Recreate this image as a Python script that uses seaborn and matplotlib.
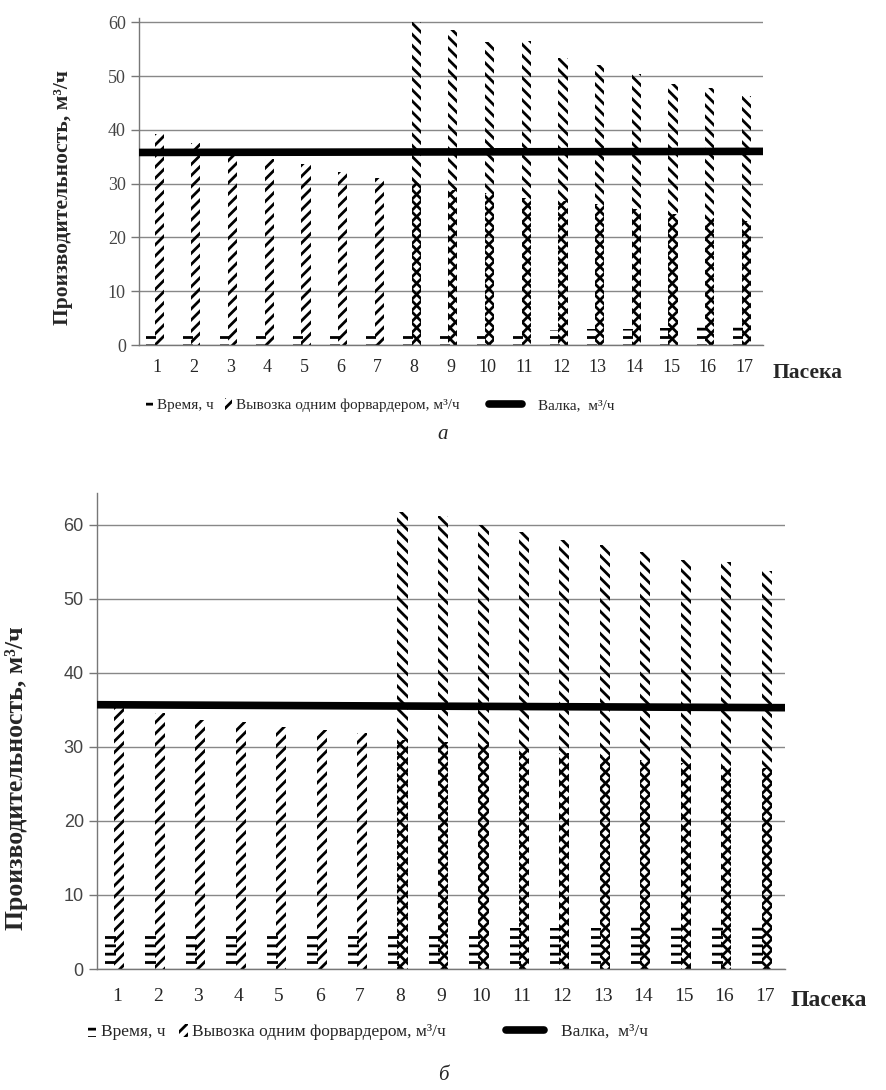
import numpy as np
import matplotlib.pyplot as plt
from matplotlib.patches import Patch
from matplotlib.lines import Line2D
import seaborn as sns

paseka = [str(i) for i in range(1, 18)]

# panel "а"
time_a = [1.8, 2.0, 2.0, 2.0, 2.0, 2.0, 2.0, 2.0, 2.0, 2.0, 2.2, 2.8, 3.0, 3.0, 3.2, 3.3, 3.3]
one_fw_a = [39.2, 37.5, 35.4, 34.5, 33.6, 32.1, 31.1, 30.2, 28.9, 28.3, 27.4, 26.7, 26.3, 25.2, 24.3, 23.7, 23.0]
two_fw_a = [60.0, 58.5, 56.3, 56.5, 53.3, 52.0, 50.3, 48.5, 47.7, 46.3]  # пасеки 8-17
valka_a = [35.8, 35.8, 35.8, 35.8, 35.8, 35.9, 35.9, 35.9, 35.9, 35.9, 35.9, 35.9, 36.0, 36.0, 36.0, 36.0, 36.0]

# panel "б"
time_b = [4.7, 4.7, 5.0, 5.0, 5.0, 5.0, 5.0, 5.0, 5.0, 5.0, 5.6, 5.6, 5.6, 5.9, 5.9, 5.9, 5.9]
one_fw_b = [35.4, 34.6, 33.6, 33.3, 32.7, 32.3, 31.9, 30.9, 30.7, 30.3, 29.7, 29.2, 28.9, 28.2, 27.8, 27.4, 27.1]
two_fw_b = [61.8, 61.2, 60.0, 59.0, 58.0, 57.3, 56.3, 55.3, 55.0, 53.7]  # пасеки 8-17
valka_b = [35.7, 35.7, 35.7, 35.6, 35.6, 35.6, 35.6, 35.5, 35.5, 35.5, 35.5, 35.4, 35.4, 35.4, 35.4, 35.3, 35.3]

sns.set_theme(style="white")
plt.rcParams['font.family'] = ['Liberation Serif', 'DejaVu Serif']
plt.rcParams['hatch.linewidth'] = 2.0
plt.rcParams['hatch.color'] = 'black'

fig = plt.figure(figsize=(8.86, 10.9), dpi=100)
W, H = 886, 1090


def draw_panel(ax, time, one_fw, two_fw, valka, ymax, ytick_font, ytick_size, xtick_size, xpad):
    pos = np.arange(len(paseka))
    sns.barplot(x=pos - 0.17, y=time, native_scale=True, width=0.27, ax=ax,
                color='black', hatch='--', linewidth=0)
    sns.barplot(x=pos + 0.05, y=one_fw, native_scale=True, width=0.25, ax=ax,
                color='black', hatch='///', linewidth=0)
    sns.barplot(x=pos[7:] + 0.05, y=two_fw, native_scale=True, width=0.25, ax=ax,
                color='black', hatch='\\\\\\', linewidth=0)
    for p in ax.patches:
        p.set_facecolor('none')
        p.set_edgecolor('black')
        p.set_linewidth(0)

    # Валка - thick line across the plot
    sns.lineplot(x=[-0.5, 16.5], y=[valka[0], valka[-1]], ax=ax, color='black',
                 linewidth=5.5, zorder=5)

    ax.set_xlim(-0.5, 16.5)
    ax.set_ylim(0, ymax)
    ax.set_xticks(pos)
    ax.set_xticklabels(paseka, fontsize=xtick_size, family=['Liberation Serif'])
    ax.set_xticks(np.arange(-0.5, 17, 1), minor=True)
    ax.tick_params(axis='x', which='major', length=0, pad=xpad)
    ax.tick_params(axis='x', which='minor', length=5, width=1, color='#777777', direction='out')
    ax.set_yticks(range(0, 61, 10))
    ax.set_yticklabels([str(v) for v in range(0, 61, 10)], fontsize=ytick_size,
                       family=ytick_font, color='#444444')
    ax.tick_params(axis='y', length=6, width=1, color='#777777', direction='out', left=True)
    ax.yaxis.grid(True, color='#888888', linewidth=1)
    ax.set_axisbelow(True)
    ax.set_xlabel('')
    for s in ['top', 'right']:
        ax.spines[s].set_visible(False)
    for s in ['left', 'bottom']:
        ax.spines[s].set_color('#777777')
        ax.spines[s].set_linewidth(1)


ax1 = fig.add_axes([139 / W, 1 - 345 / H, (763 - 139) / W, (345 - 18) / H])
draw_panel(ax1, time_a, one_fw_a, two_fw_a, valka_a, 60.8,
           ['Liberation Serif'], 13, 13, 10)
ax1.set_ylabel('Производительность, м³/ч', fontsize=15.5, fontweight='bold')
ax1.yaxis.set_label_coords(-0.105, 0.45)

ax2 = fig.add_axes([97 / W, 1 - 969 / H, (785 - 97) / W, (969 - 493) / H])
draw_panel(ax2, time_b, one_fw_b, two_fw_b, valka_b, 64.3,
           ['Liberation Sans'], 13, 14, 14)
ax2.set_ylabel('Производительность, м³/ч', fontsize=18.5, fontweight='bold')
ax2.yaxis.set_label_coords(-0.1, 0.40)

fig.text(773 / W, 1 - 373 / H, 'Пасека', fontsize=15.5, fontweight='bold', va='center')
fig.text(790 / W, 1 - 1000 / H, 'Пасека', fontsize=17, fontweight='bold', va='center')

patch_handles = [Patch(facecolor='none', edgecolor='black', hatch='--', linewidth=0),
                 Patch(facecolor='none', edgecolor='black', hatch='///', linewidth=0)]
patch_labels = ['Время, ч', 'Вывозка одним форвардером, м³/ч']
line_handle = [Line2D([0], [0], color='black', linewidth=5.5)]
line_label = ['Валка,  м³/ч']

for y_pix, x_patch, x_line, fs, cs in [(405, 132, 475, 11, 0.7), (1032, 72, 490, 12.5, 0.8)]:
    fig.legend(patch_handles, patch_labels, loc='center left', ncol=2,
               bbox_to_anchor=(x_patch / W, 1 - y_pix / H), frameon=False,
               handlelength=0.5, handleheight=0.8, handletextpad=0.25,
               columnspacing=cs, fontsize=fs)
    fig.legend(line_handle, line_label, loc='center left',
               bbox_to_anchor=(x_line / W, 1 - y_pix / H), frameon=False,
               handlelength=2.2, handletextpad=1.0, fontsize=fs)

fig.text(0.5, 1 - 435 / H, 'а', fontsize=15, style='italic', ha='center', va='center')
fig.text(0.5, 1 - 1075 / H, 'б', fontsize=15, style='italic', ha='center', va='center')

fig.savefig('out.png', dpi=100, facecolor='white')
